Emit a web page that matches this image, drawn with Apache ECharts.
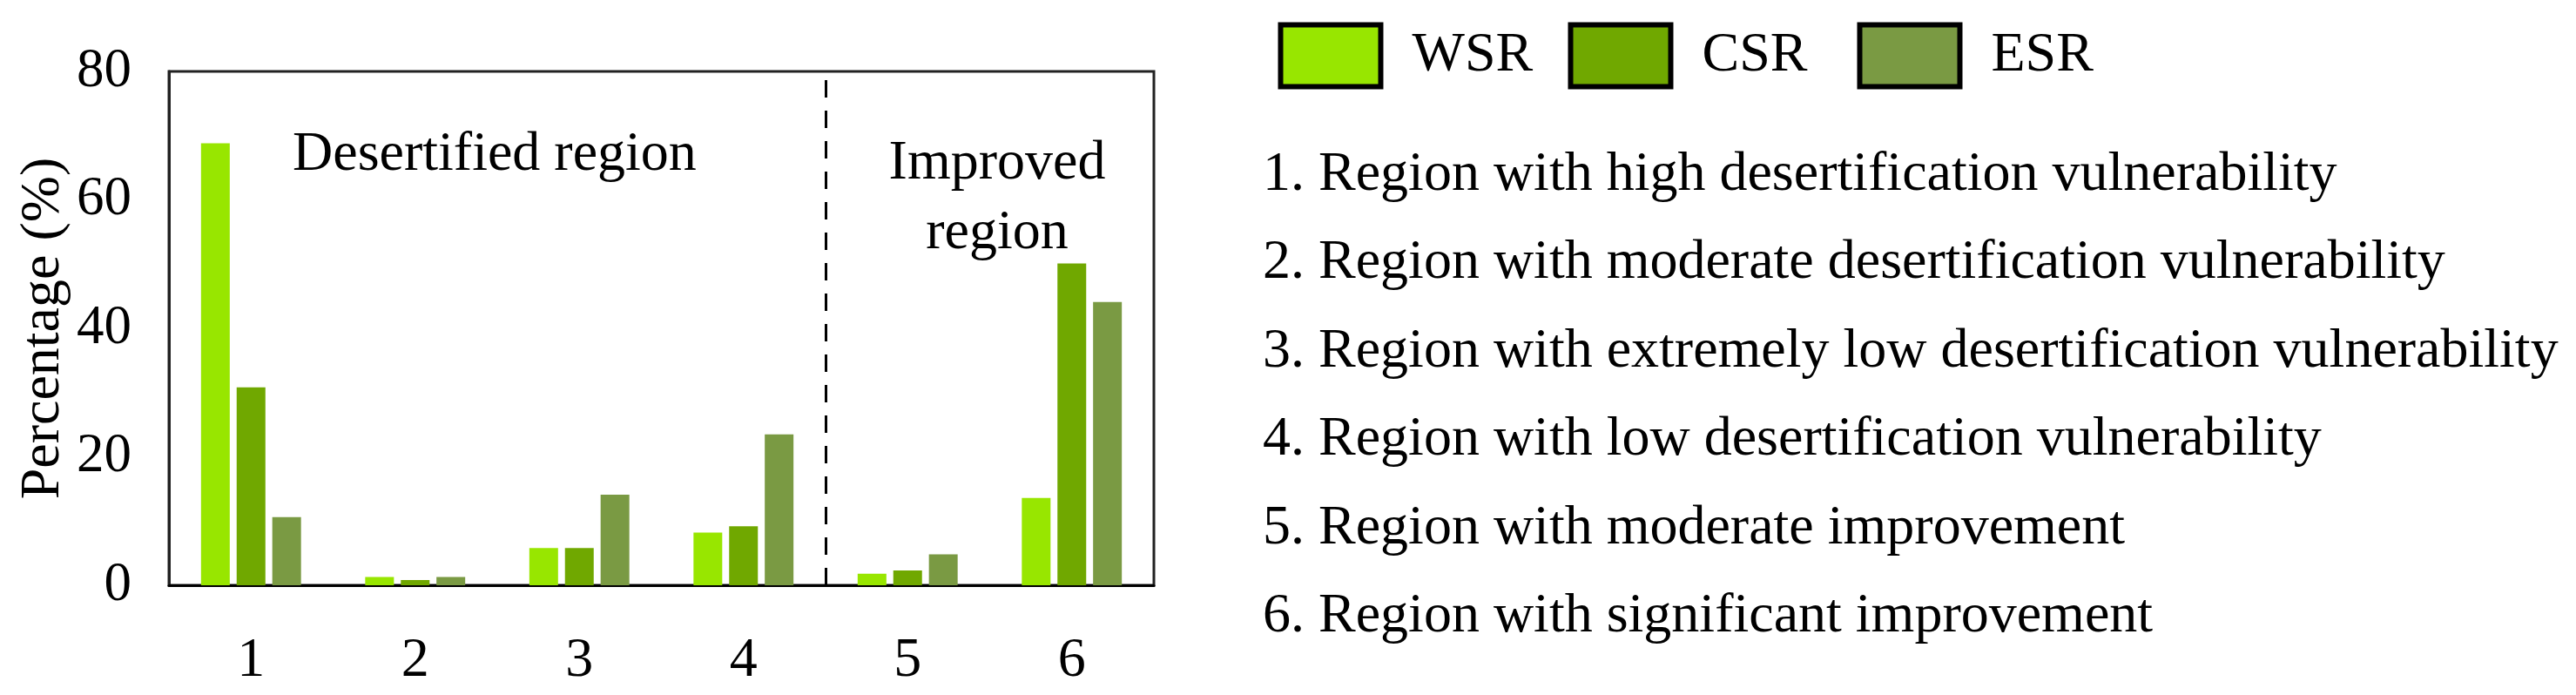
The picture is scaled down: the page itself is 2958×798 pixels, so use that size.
<!DOCTYPE html>
<html>
<head>
<meta charset="utf-8">
<script src="https://cdn.jsdelivr.net/npm/echarts@6/dist/echarts.min.js"></script>
<style>
  html, body { margin: 0; padding: 0; background: #fff; }
  #chart { width: 2958px; height: 798px; }
</style>
</head>
<body>
<div id="chart"></div>
<script>
// ---- data ----
const categories = ['1', '2', '3', '4', '5', '6'];
const seriesNames = ['WSR', 'CSR', 'ESR'];
const wsrValues = [68.8, 1.3, 5.8, 8.2, 1.8, 13.6];
const csrValues = [30.8, 0.8, 5.8, 9.2, 2.3, 50.1];
const esrValues = [10.6, 1.3, 14.1, 23.5, 4.8, 44.1];
const yTicks = [0, 20, 40, 60, 80];
const regionBoundary = [4];
const regionLabels = ['Desertified region', 'Improved\nregion'];
const listItems = [
  '1. Region with high desertification vulnerability',
  '2. Region with moderate desertification vulnerability',
  '3. Region with extremely low desertification vulnerability',
  '4. Region with low desertification vulnerability',
  '5. Region with moderate improvement',
  '6. Region with significant improvement'
];

const colors = ['#98E600', '#70A800', '#7A9A43'];
const FONT = 'Liberation Serif';

const chart = echarts.init(document.getElementById('chart'), null, { renderer: 'canvas' });

const legendLefts = [1467.5, 1800.5, 2132.5];
const legends = seriesNames.map((n, i) => ({
  data: [n],
  left: legendLefts[i],
  top: 25.5,
  padding: 0,
  itemWidth: 115,
  itemHeight: 71,
  icon: 'rect',
  itemStyle: { borderColor: '#000', borderWidth: 6 },
  selectedMode: false,
  textStyle: { fontFamily: FONT, fontSize: 64, color: '#000', padding: [0, 0, 0, 31] }
}));

const valueSets = [wsrValues, csrValues, esrValues];
const barSeries = seriesNames.map((n, i) => ({
  name: n,
  type: 'bar',
  data: valueSets[i],
  barWidth: 33,
  barGap: '24%',
  itemStyle: { color: colors[i] },
  xAxisIndex: 0,
  yAxisIndex: 0
}));

const option = {
  backgroundColor: '#fff',
  animation: false,
  color: colors,
  legend: legends,
  grid: {
    left: 194, right: 1633, top: 82, bottom: 126,
    show: true, borderColor: '#222', borderWidth: 3, backgroundColor: 'transparent'
  },
  xAxis: [
    {
      type: 'category',
      data: categories,
      axisLine: { show: true, lineStyle: { color: '#000', width: 3 } },
      axisTick: { show: false },
      axisLabel: { fontFamily: FONT, fontSize: 64, color: '#000', margin: 55 },
      splitLine: { show: false }
    },
    { type: 'value', min: 0, max: categories.length, show: false }
  ],
  yAxis: {
    type: 'value',
    min: yTicks[0], max: yTicks[yTicks.length - 1], interval: 20,
    name: 'Percentage (%)',
    nameLocation: 'middle',
    nameGap: 112,
    nameTextStyle: { fontFamily: FONT, fontSize: 64, color: '#000' },
    axisLine: { show: true, lineStyle: { color: '#222', width: 3 } },
    axisTick: { show: false },
    axisLabel: { fontFamily: FONT, fontSize: 63, color: '#000', margin: 43 },
    splitLine: { show: false }
  },
  series: barSeries.concat([{
    type: 'line',
    xAxisIndex: 1,
    yAxisIndex: 0,
    data: [],
    silent: true,
    markLine: {
      silent: true,
      symbol: 'none',
      label: { show: false },
      lineStyle: { color: '#000', width: 3, type: [20, 15] },
      data: regionBoundary.map(b => ({ xAxis: b }))
    }
  }]),
  graphic: [
    {
      type: 'text', left: 336, top: 146,
      style: { text: regionLabels[0], font: '64px "Liberation Serif"', fill: '#000' }
    },
    {
      type: 'text', x: 1145, y: 148,
      style: { text: regionLabels[1], font: '64px "Liberation Serif"', fill: '#000', align: 'center', lineHeight: 80 }
    },
    {
      type: 'text', left: 1450, top: 150,
      style: { text: listItems.join('\n'), font: '64px "Liberation Serif"', fill: '#000', lineHeight: 101.5 }
    }
  ]
};

chart.setOption(option);
</script>
</body>
</html>
